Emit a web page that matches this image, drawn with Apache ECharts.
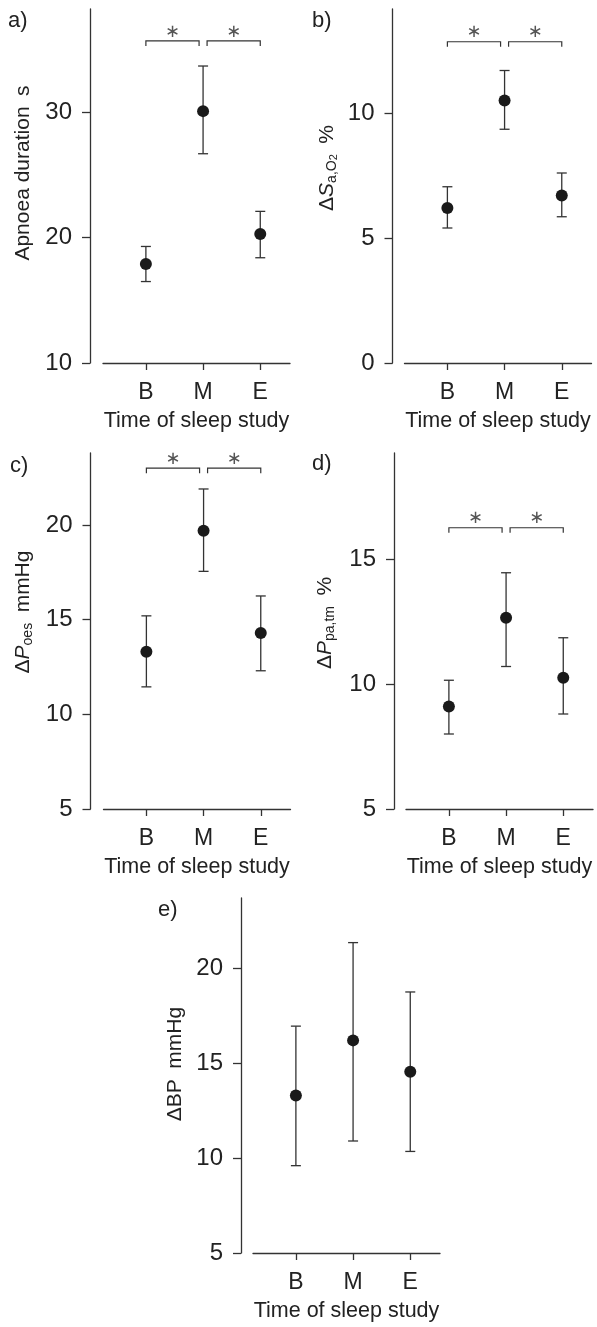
<!DOCTYPE html>
<html>
<head>
<meta charset="utf-8">
<script src="https://cdn.jsdelivr.net/npm/echarts@6/dist/echarts.min.js"></script>
<style>
  html, body { margin: 0; padding: 0; background: #fff; }
  #chart { width: 597px; height: 1327px; }
</style>
</head>
<body>
<div id="chart"></div>
<script>
// categories (time of sleep study)
const categories = ['B', 'M', 'E'];
const catPos = [1, 2, 3];

// a) apnoea duration, s
const apnoeaMean = [17.9, 30.1, 20.3];
const apnoeaLow = [16.5, 26.7, 18.4];
const apnoeaHigh = [19.3, 33.7, 22.1];
const apnoeaTicks = [10, 20, 30];

// b) delta SaO2, %
const sao2Mean = [6.2, 10.5, 6.7];
const sao2Low = [5.4, 9.35, 5.85];
const sao2High = [7.05, 11.7, 7.6];
const sao2Ticks = [0, 5, 10];

// c) delta Poes, mmHg
const poesMean = [13.3, 19.7, 14.3];
const poesLow = [11.45, 17.55, 12.3];
const poesHigh = [15.2, 21.9, 16.25];
const poesTicks = [5, 10, 15, 20];

// d) delta Ppa,tm, %
const ppaMean = [9.1, 12.65, 10.25];
const ppaLow = [8.0, 10.7, 8.8];
const ppaHigh = [10.15, 14.45, 11.85];
const ppaTicks = [5, 10, 15];

// e) delta BP, mmHg
const bpMean = [13.3, 16.2, 14.55];
const bpLow = [9.6, 10.9, 10.35];
const bpHigh = [16.95, 21.35, 18.75];
const bpTicks = [5, 10, 15, 20];

// significance brackets: [from, to] on the x scale, level on the y scale
const bracketSpans = [[1, 1.93], [2.07, 3]];
const bracketLevel = [35.7, 12.85, 23.0, 16.25];

const ink = '#222';
const lineCol = '#333';
const font = "'Liberation Sans', Arial, Helvetica, sans-serif";

// panel layout
const panels = [
    { left: 103, top: 9, height: 354, offset: 13, min: 10, max: 38.25, ticks: apnoeaTicks, mean: apnoeaMean, low: apnoeaLow, high: apnoeaHigh },
    { left: 404.5, top: 9, height: 354, offset: 12, min: 0, max: 14.16, ticks: sao2Ticks, mean: sao2Mean, low: sao2Low, high: sao2High },
    { left: 103.5, top: 453, height: 356, offset: 13, min: 5, max: 23.8, ticks: poesTicks, mean: poesMean, low: poesLow, high: poesHigh },
    { left: 406, top: 453, height: 356, offset: 12, min: 5, max: 19.24, ticks: ppaTicks, mean: ppaMean, low: ppaLow, high: ppaHigh },
    { left: 253, top: 898, height: 355, offset: 12, min: 5, max: 23.7, ticks: bpTicks, mean: bpMean, low: bpLow, high: bpHigh }
];
const gridWidth = 187;
const xMin = 0.25;
const xMax = 3.52;

const chart = echarts.init(document.getElementById('chart'));

const grids = [];
const xAxes = [];
const yAxes = [];
const series = [];

const axisLineStyle = { color: lineCol, width: 1.3 };

const renderErrorBar = (params, api) => {
    const x = api.value(0);
    const top = api.coord([x, api.value(2)]);
    const bot = api.coord([x, api.value(1)]);
    const cap = 5;
    const style = { stroke: lineCol, lineWidth: 1.3 };
    return {
        type: 'group',
        children: [
            { type: 'line', shape: { x1: top[0], y1: top[1], x2: bot[0], y2: bot[1] }, style },
            { type: 'line', shape: { x1: top[0] - cap, y1: top[1], x2: top[0] + cap, y2: top[1] }, style },
            { type: 'line', shape: { x1: bot[0] - cap, y1: bot[1], x2: bot[0] + cap, y2: bot[1] }, style }
        ]
    };
};

const renderBracket = (params, api) => {
    const a = api.coord([api.value(0), api.value(2)]);
    const b = api.coord([api.value(1), api.value(2)]);
    const drop = 5;
    return {
        type: 'group',
        children: [
            {
                type: 'polyline',
                shape: { points: [[a[0], a[1] + drop], [a[0], a[1]], [b[0], b[1]], [b[0], b[1] + drop]] },
                style: { stroke: lineCol, lineWidth: 1.2, fill: null }
            },
            {
                type: 'text',
                x: (a[0] + b[0]) / 2,
                y: a[1] - 9,
                style: {
                    text: '\u2217',
                    font: "18px 'DejaVu Sans', sans-serif",
                    fill: '#555',
                    textAlign: 'center',
                    textVerticalAlign: 'middle'
                }
            }
        ]
    };
};

panels.forEach((p, i) => {
    grids.push({ left: p.left, top: p.top, width: gridWidth, height: p.height });
    xAxes.push({
        gridIndex: i,
        type: 'value',
        min: xMin,
        max: xMax,
        name: 'Time of sleep study',
        nameLocation: 'middle',
        nameGap: 47,
        nameTextStyle: { fontFamily: font, fontSize: 21.5, color: ink },
        axisLine: { show: true, lineStyle: axisLineStyle },
        axisTick: { show: true, length: 7, customValues: catPos, lineStyle: axisLineStyle },
        axisLabel: {
            customValues: catPos,
            formatter: (v) => categories[Math.round(v) - 1],
            margin: 18,
            fontFamily: font,
            fontSize: 23,
            color: ink
        },
        splitLine: { show: false }
    });
    yAxes.push({
        gridIndex: i,
        type: 'value',
        min: p.min,
        max: p.max,
        offset: p.offset,
        axisLine: { show: true, lineStyle: axisLineStyle },
        axisTick: { show: true, length: 8, customValues: p.ticks, lineStyle: axisLineStyle },
        axisLabel: {
            customValues: p.ticks,
            margin: 18,
            fontFamily: font,
            fontSize: 24,
            color: ink
        },
        splitLine: { show: false }
    });
    series.push({
        type: 'custom',
        xAxisIndex: i,
        yAxisIndex: i,
        renderItem: renderErrorBar,
        data: catPos.map((x, k) => [x, p.low[k], p.high[k]]),
        silent: true,
        z: 2
    });
    series.push({
        type: 'scatter',
        xAxisIndex: i,
        yAxisIndex: i,
        symbol: 'circle',
        symbolSize: 12,
        itemStyle: { color: '#1a1a1a', opacity: 1 },
        data: catPos.map((x, k) => [x, p.mean[k]]),
        silent: true,
        z: 3
    });
    if (i < bracketLevel.length) {
        series.push({
            type: 'custom',
            xAxisIndex: i,
            yAxisIndex: i,
            renderItem: renderBracket,
            data: bracketSpans.map((s) => [s[0], s[1], bracketLevel[i]]),
            silent: true,
            clip: false,
            z: 2
        });
    }
});

// axis names and panel letters
const nameStyle = (text, rich) => ({
    text,
    rich,
    font: '21px ' + font,
    fill: ink,
    textAlign: 'center',
    textVerticalAlign: 'middle'
});
const subRich = {
    m: { fontSize: 21, fontFamily: font, lineHeight: 24, color: ink },
    it: { fontSize: 21, fontFamily: font, fontStyle: 'italic', lineHeight: 24, color: ink },
    s: { fontSize: 14, fontFamily: font, lineHeight: 12, verticalAlign: 'bottom', color: ink },
    ss: { fontSize: 11, fontFamily: font, lineHeight: 8, verticalAlign: 'bottom', color: ink }
};

const yNames = [
    { x: 23, y: 173, text: '{m|Apnoea duration\u2002s}' },
    { x: 327, y: 168, text: '{m|\u0394}{it|S}{s|a,O}{ss|2}{m|\u2002%}' },
    { x: 23, y: 612, text: '{m|\u0394}{it|P}{s|oes}{m|\u2002mmHg}' },
    { x: 325, y: 623, text: '{m|\u0394}{it|P}{s|pa,tm}{m|\u2002%}' },
    { x: 175, y: 1064, text: '{m|\u0394BP\u2002mmHg}' }
];
const panelLetters = [
    { x: 8, y: 10, text: 'a)' },
    { x: 312, y: 10, text: 'b)' },
    { x: 10, y: 455, text: 'c)' },
    { x: 312, y: 453, text: 'd)' },
    { x: 158, y: 899, text: 'e)' }
];

const graphic = [];
yNames.forEach((n) => {
    graphic.push({
        type: 'text',
        x: n.x,
        y: n.y,
        rotation: Math.PI / 2,
        style: nameStyle(n.text, subRich)
    });
});
panelLetters.forEach((l) => {
    graphic.push({
        type: 'text',
        x: l.x,
        y: l.y,
        style: { text: l.text, font: '22px ' + font, fill: ink, textAlign: 'left', textVerticalAlign: 'top' }
    });
});

chart.setOption({
    backgroundColor: '#fff',
    animation: false,
    grid: grids,
    xAxis: xAxes,
    yAxis: yAxes,
    series,
    graphic
});
</script>
</body>
</html>
